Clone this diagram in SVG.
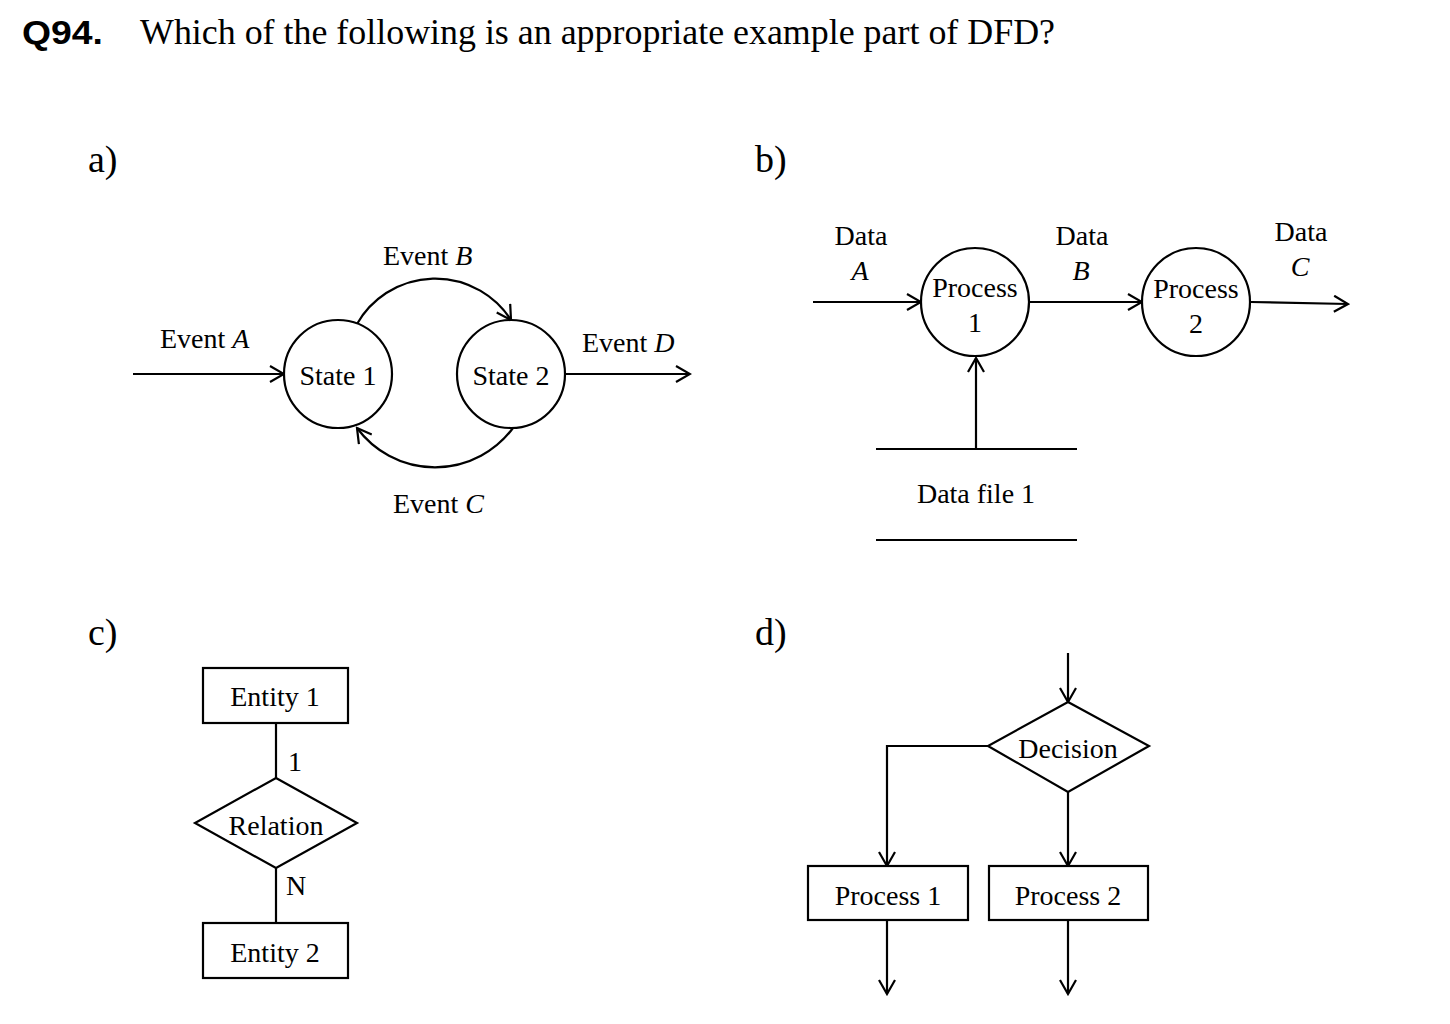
<svg xmlns="http://www.w3.org/2000/svg" width="1450" height="1024" viewBox="0 0 1450 1024">
<style>
text{font-family:"Liberation Serif","Times New Roman",serif;fill:#000;}
.t{font-size:28px;}
.c{text-anchor:middle;}
.lab{font-size:38px;}
.it{font-style:italic;}
.s{fill:none;stroke:#000;stroke-width:2.2;}
.n{fill:#fff;stroke:#000;stroke-width:2.2;}
</style>
<defs>
<marker id="ar" viewBox="0 0 18 18" refX="16" refY="9" markerWidth="18" markerHeight="18" markerUnits="userSpaceOnUse" orient="auto">
<path d="M2,1 L16,9 L2,17" fill="none" stroke="#000" stroke-width="2.2"/>
</marker>
</defs>
<rect width="1450" height="1024" fill="#fff"/>
<text x="22" y="44" textLength="81" lengthAdjust="spacingAndGlyphs" style="font-family:'Liberation Sans',Arial,sans-serif;font-weight:bold;font-size:33px">Q94.</text>
<text x="140" y="44" textLength="915" lengthAdjust="spacingAndGlyphs" style="font-size:35px">Which of the following is an appropriate example part of DFD?</text>
<text x="88" y="172" class="lab">a)</text>
<text x="755" y="172" class="lab">b)</text>
<text x="88" y="645" class="lab">c)</text>
<text x="755" y="645" class="lab">d)</text>

<g id="connectors">
<line class="s" x1="133" y1="374" x2="284" y2="374" marker-end="url(#ar)"/>
<line class="s" x1="565" y1="374" x2="690" y2="374" marker-end="url(#ar)"/>
<path class="s" d="M357,324 A90,90 0 0 1 511,320" marker-end="url(#ar)"/>
<path class="s" d="M513,428 A97,97 0 0 1 357,428" marker-end="url(#ar)"/>
<line class="s" x1="813" y1="302" x2="921" y2="302" marker-end="url(#ar)"/>
<line class="s" x1="1030" y1="302" x2="1142" y2="302" marker-end="url(#ar)"/>
<line class="s" x1="1251" y1="302" x2="1348" y2="304" marker-end="url(#ar)"/>
<line class="s" x1="976" y1="449" x2="976" y2="358" marker-end="url(#ar)"/>
<line class="s" x1="276" y1="723" x2="276" y2="778"/>
<line class="s" x1="276" y1="868" x2="276" y2="923"/>
<line class="s" x1="1068" y1="653" x2="1068" y2="702" marker-end="url(#ar)"/>
<polyline class="s" points="988,746 887,746 887,866" marker-end="url(#ar)"/>
<line class="s" x1="1068" y1="792" x2="1068" y2="866" marker-end="url(#ar)"/>
<line class="s" x1="887" y1="920" x2="887" y2="994" marker-end="url(#ar)"/>
<line class="s" x1="1068" y1="920" x2="1068" y2="994" marker-end="url(#ar)"/>
</g>

<g id="a-labels">
<text x="160" y="348" class="t">Event <tspan class="it">A</tspan></text>
<text x="582" y="352" class="t">Event <tspan class="it">D</tspan></text>
<text x="383" y="265" class="t">Event <tspan class="it">B</tspan></text>
<text x="393" y="513" class="t">Event <tspan class="it">C</tspan></text>
</g>
<g id="state1"><circle class="n" cx="338" cy="374" r="54"/><text x="338" y="385" class="t c">State 1</text></g>
<g id="state2"><circle class="n" cx="511" cy="374" r="54"/><text x="511" y="385" class="t c">State 2</text></g>

<g id="b-labels">
<text x="861" y="245" class="t c">Data</text><text x="860" y="280" class="t c it">A</text>
<text x="1082" y="245" class="t c">Data</text><text x="1081" y="280" class="t c it">B</text>
<text x="1301" y="241" class="t c">Data</text><text x="1300" y="276" class="t c it">C</text>
</g>
<g id="process1"><circle class="n" cx="975" cy="302" r="54"/><text x="975" y="297" class="t c">Process</text><text x="975" y="332" class="t c">1</text></g>
<g id="process2"><circle class="n" cx="1196" cy="302" r="54"/><text x="1196" y="298" class="t c">Process</text><text x="1196" y="333" class="t c">2</text></g>
<g id="datafile1">
<line class="s" x1="876" y1="449" x2="1077" y2="449"/>
<line class="s" x1="876" y1="540" x2="1077" y2="540"/>
<text x="976" y="503" class="t c">Data file 1</text>
</g>

<g id="entity1"><rect class="n" x="203" y="668" width="145" height="55"/><text x="275" y="706" class="t c">Entity 1</text></g>
<g id="relation"><polygon class="n" points="276,778 357,823 276,868 195,823"/><text x="276" y="835" class="t c">Relation</text></g>
<g id="entity2"><rect class="n" x="203" y="923" width="145" height="55"/><text x="275" y="962" class="t c">Entity 2</text></g>
<g id="cardinality"><text x="295" y="771" class="t c">1</text><text x="296" y="895" class="t c">N</text></g>

<g id="decision"><polygon class="n" points="1068,702 1149,746 1068,792 988,746"/><text x="1068" y="758" class="t c">Decision</text></g>
<g id="proc1"><rect class="n" x="808" y="866" width="160" height="54"/><text x="888" y="905" class="t c">Process 1</text></g>
<g id="proc2"><rect class="n" x="989" y="866" width="159" height="54"/><text x="1068" y="905" class="t c">Process 2</text></g>
</svg>
